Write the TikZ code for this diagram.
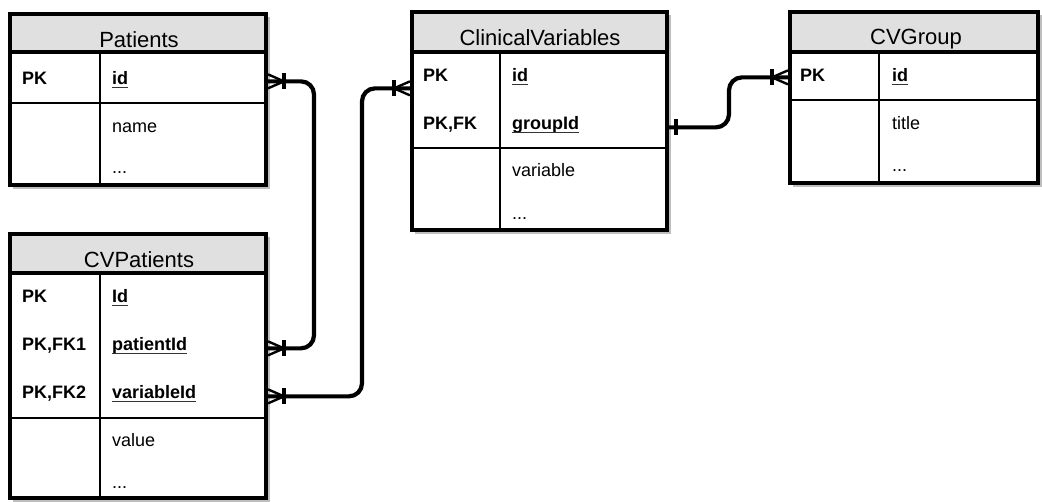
\documentclass[tikz,border=0pt]{standalone}
\usepackage{fontspec}
\setmainfont{Liberation Sans}
\usetikzlibrary{calc,fit}
\definecolor{hdr}{RGB}{224,224,224}
\definecolor{shd}{RGB}{190,190,190}
\begin{document}
\begin{tikzpicture}[x=1pt,y=-1pt,
  tbl/.style={draw,line width=4pt,inner sep=0pt},
  shadow/.style={fill=shd},
  body/.style={fill=white},
  head/.style={fill=hdr},
  hline/.style={line width=3.6pt},
  thin/.style={line width=1.1pt},
  title/.style={anchor=base,inner sep=0pt,font=\fontsize{22}{24}\selectfont},
  key/.style={anchor=base west,inner sep=0pt,font=\fontsize{18}{20}\selectfont\bfseries},
  fld/.style={anchor=base west,inner sep=0pt,font=\fontsize{18}{20}\selectfont},
  pkfld/.style={anchor=base west,inner sep=0pt,font=\fontsize{18}{20}\selectfont\bfseries},
  uline/.style={line width=0.9pt,black!80},
  conn/.style={line width=4.2pt,rounded corners=13pt},
  fan/.style={line width=2.4pt},
  bar/.style={line width=3.8pt}]
\useasboundingbox (0,0) rectangle (1042,502);

% ---------- Patients ----------
\fill[shadow] (13,17) rectangle (270,189);
\fill[body] (10,14) rectangle (266,185);
\fill[head] (10,14) rectangle (266,52);
\draw[thin] (100,52) -- (100,185);
\draw[thin] (10,103) -- (266,103);
\draw[hline] (10,52) -- (266,52);
\node[tbl,fit={(10,14) (266,185)}] (pat) {};
\node[title] (pattitle) at (139,48) {Patients};
\node[key] (patpk) at (22,85) {PK};
\node[pkfld] (patid) at (112,85) {id};
\node[fld] (patname) at (112,133) {name};
\node[fld] (patdots) at (112,174) {...};

% ---------- CVPatients ----------
\fill[shadow] (13,237) rectangle (270,503);
\fill[body] (10,234) rectangle (266,498);
\fill[head] (10,234) rectangle (266,273);
\draw[thin] (100,273) -- (100,498);
\draw[thin] (10,418) -- (266,418);
\draw[hline] (10,273) -- (266,273);
\node[tbl,fit={(10,234) (266,498)}] (cvp) {};
\node[title] (cvptitle) at (139,268) {CVPatients};
\node[key] (cvppk) at (22,303) {PK};
\node[pkfld] (cvpid) at (112,303) {Id};
\node[key] (cvpfk1) at (22,351) {PK,FK1};
\node[pkfld] (cvppat) at (112,351) {patientId};
\node[key] (cvpfk2) at (22,399) {PK,FK2};
\node[pkfld] (cvpvar) at (112,399) {variableId};
\node[fld] (cvpval) at (112,447) {value};
\node[fld] (cvpdots) at (112,489) {...};

% ---------- ClinicalVariables ----------
\fill[shadow] (415,15) rectangle (671,234);
\fill[body] (412,12) rectangle (667,230);
\fill[head] (412,12) rectangle (667,52);
\draw[thin] (500,52) -- (500,230);
\draw[thin] (412,148) -- (667,148);
\draw[hline] (412,52) -- (667,52);
\node[tbl,fit={(412,12) (667,230)}] (cv) {};
\node[title] (cvtitle) at (540,46) {ClinicalVariables};
\node[key] (cvpk) at (423,82) {PK};
\node[pkfld] (cvid) at (512,82) {id};
\node[key] (cvfk) at (423,130) {PK,FK};
\node[pkfld] (cvgid) at (512,130) {groupId};
\node[fld] (cvvar) at (512,177) {variable};
\node[fld] (cvdots) at (512,220) {...};

% ---------- CVGroup ----------
\fill[shadow] (793,15) rectangle (1045,187);
\fill[body] (790,12) rectangle (1038,183);
\fill[head] (790,12) rectangle (1038,52);
\draw[thin] (879,52) -- (879,183);
\draw[thin] (790,100) -- (1038,100);
\draw[hline] (790,52) -- (1038,52);
\node[tbl,fit={(790,12) (1038,183)}] (cvg) {};
\node[title] (cvgtitle) at (916,45) {CVGroup};
\node[key] (cvgpk) at (800,82) {PK};
\node[pkfld] (cvgidf) at (892,82) {id};
\node[fld] (cvgtitlef) at (892,130) {title};
\node[fld] (cvgdots) at (892,172) {...};

% ---------- underlines ----------
\foreach \n in {patid,cvpid,cvppat,cvpvar,cvid,cvgid,cvgidf}
  \draw[uline] ([yshift=-2.2pt]\n.base west) -- ([yshift=-2.2pt]\n.base east);

% ---------- connector end points ----------
\coordinate (e1) at ($(pat.east |- patid.mid)+(0,-1)$);
\coordinate (e2) at (cvp.east |- cvppat.mid);
\coordinate (e3) at (cvp.east |- cvpvar.mid);
\coordinate (e4) at ($(cv.west |- cvid.mid)+(0,9)$);
\coordinate (e5) at (cv.east |- cvgid.mid);
\coordinate (e6) at ($(cvg.west |- cvgidf.mid)+(0,-2)$);
\coordinate (v1) at (314,0);
\coordinate (v2) at (362,0);
\coordinate (v3) at (729,0);

% ---------- connectors ----------
\draw[conn] (e1) -- (e1 -| v1) -- (e2 -| v1) -- (e2);
\draw[conn] (e3) -- (e3 -| v2) -- (e4 -| v2) -- (e4);
\draw[conn] (e5) -- (e5 -| v3) -- (e6 -| v3) -- (e6);

% ---------- markers: crow's foot + bar ----------
\foreach \e/\s in {e1/1,e2/1,e3/1,e4/-1,e6/-1}{
  \draw[fan] ($(\e)+(\s*16,0)$) -- ($(\e)+(0,-7)$);
  \draw[fan] ($(\e)+(\s*16,0)$) -- ($(\e)+(0,7)$);
  \draw[bar] ($(\e)+(\s*16,-8)$) -- ($(\e)+(\s*16,8)$);
}
% one-bar at groupId
\draw[bar] ($(e5)+(7,-8)$) -- ($(e5)+(7,8)$);
\end{tikzpicture}
\end{document}
